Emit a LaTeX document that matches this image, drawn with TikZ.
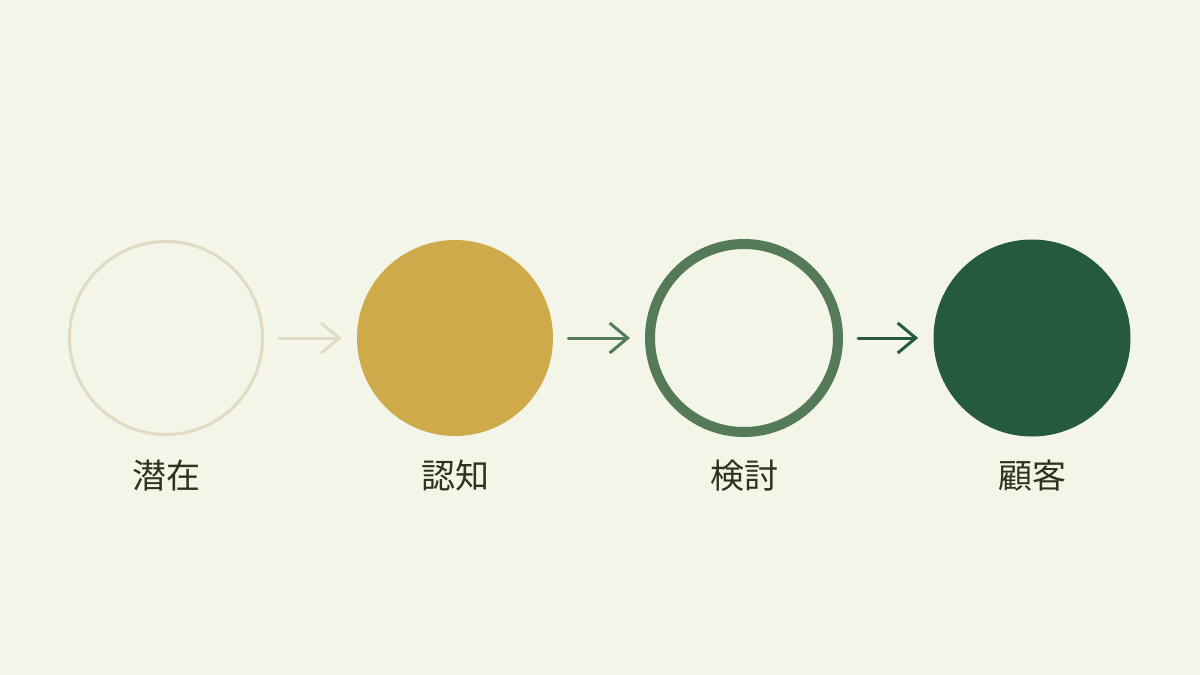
\documentclass[tikz,border=0pt]{standalone}
\usepackage{fontspec}
\newfontfamily\jpfont{Noto Sans CJK JP}
\usetikzlibrary{arrows.meta}
\definecolor{bgpaper}{HTML}{F3F5E8}
\definecolor{sand}{HTML}{E3DAC3}
\definecolor{mustard}{HTML}{CFAA4A}
\definecolor{sage}{HTML}{557A58}
\definecolor{forest}{HTML}{265A3C}
\definecolor{ink}{HTML}{2D3320}
\tikzset{
  stage/.style={circle, inner sep=0pt},
  stagelabel/.style={font=\jpfont\fontsize{17pt}{20pt}\selectfont, text=ink},
  flow/.style={-{Straight Barb[length=9pt,width=15pt]}, line width=1.5pt, line cap=round, line join=round, shorten <=7.5pt, shorten >=7.5pt}
}
\begin{document}
\begin{tikzpicture}[x=0.5pt,y=-0.5pt]
		\fill[bgpaper] (0,0) rectangle (1200,675);
		\useasboundingbox (0,0) rectangle (1200,675);
		% stages
		\node[stage, draw=sand, line width=1.5pt, minimum size=96.5pt] (latent) at (166,338) {};
		\node[stage, fill=mustard, minimum size=98pt] (aware) at (455,338) {};
		\node[stage, draw=sage, line width=5pt, minimum size=94pt] (consider) at (744,338) {};
		\node[stage, fill=forest, minimum size=98.5pt] (customer) at (1032,338) {};
		% labels
		\node[stagelabel] (latentlab) at (166,476) {潜在};
		\node[stagelabel] (awarelab) at (455,476) {認知};
		\node[stagelabel] (considerlab) at (744,476) {検討};
		\node[stagelabel] (customerlab) at (1032,476) {顧客};
		% arrows
		\draw[flow, sand] (latent) -- (aware);
		\draw[flow, sage] (aware) -- (consider);
		\draw[flow, forest] (consider) -- (customer);
	\end{tikzpicture}
\end{document}
